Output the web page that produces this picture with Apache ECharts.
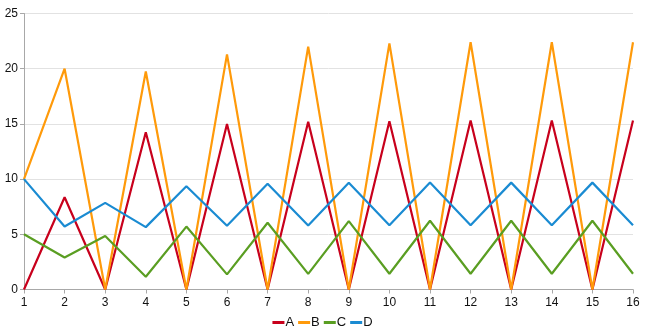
<!DOCTYPE html>
<html>
<head>
<meta charset="utf-8">
<script src="https://cdn.jsdelivr.net/npm/echarts@6/dist/echarts.min.js"></script>
<style>
  html, body { margin: 0; padding: 0; background: #fff; }
  #chart { width: 645px; height: 331px; }
</style>
</head>
<body>
<div id="chart"></div>
<script>
// Categories along the x axis
const categories = ['1','2','3','4','5','6','7','8','9','10','11','12','13','14','15','16'];

// Series values
const seriesA = [0, 8.35, 0, 14.25, 0, 15.0, 0, 15.2, 0, 15.25, 0, 15.3, 0, 15.3, 0, 15.3];
const seriesB = [10, 20.0, 0, 19.75, 0, 21.3, 0, 22.0, 0, 22.3, 0, 22.4, 0, 22.4, 0, 22.4];
const seriesC = [5.0, 2.9, 4.85, 1.15, 5.7, 1.37, 6.05, 1.42, 6.2, 1.43, 6.23, 1.43, 6.23, 1.43, 6.23, 1.43];
const seriesD = [10, 5.7, 7.85, 5.65, 9.35, 5.78, 9.58, 5.8, 9.67, 5.83, 9.7, 5.83, 9.68, 5.83, 9.68, 5.83];

const seriesNames = ['A', 'B', 'C', 'D'];
const seriesColors = ['#c8001c', '#ff9a0a', '#5a9e22', '#1a8bd2'];
const seriesData = [seriesA, seriesB, seriesC, seriesD];

const chart = echarts.init(document.getElementById('chart'), null, { renderer: 'canvas' });

const axisFont = { fontFamily: 'Liberation Sans, Arial, sans-serif', fontSize: 12, color: '#111' };

chart.setOption({
  animation: false,
  backgroundColor: '#fff',
  grid: { left: 24, right: 12, top: 13.5, bottom: 41.5, containLabel: false },
  legend: {
    top: 311,
    left: 'center',
    icon: 'rect',
    itemWidth: 12,
    itemHeight: 3,
    itemGap: 4,
    data: seriesNames,
    textStyle: { fontFamily: 'Liberation Sans, Arial, sans-serif', fontSize: 13, color: '#111', padding: [0, 0, 0, -4] }
  },
  xAxis: {
    type: 'category',
    data: categories,
    boundaryGap: false,
    axisLine: { lineStyle: { color: '#a8a8a8', width: 1 } },
    axisTick: { show: true, length: 4, alignWithLabel: true, lineStyle: { color: '#a8a8a8' } },
    axisLabel: Object.assign({ margin: 7 }, axisFont),
    splitLine: { show: false }
  },
  yAxis: {
    type: 'value',
    min: 0,
    max: 25,
    interval: 5,
    axisLine: { show: true, lineStyle: { color: '#a8a8a8', width: 1 } },
    axisTick: { show: true, length: 4, lineStyle: { color: '#a8a8a8' } },
    axisLabel: Object.assign({ margin: 6 }, axisFont),
    splitLine: { show: true, lineStyle: { color: '#e2e2e2', width: 1 } }
  },
  series: seriesNames.map((name, i) => ({
    name: name,
    type: 'line',
    data: seriesData[i],
    color: seriesColors[i],
    showSymbol: false,
    symbol: 'none',
    lineStyle: { width: 2.2, color: seriesColors[i] }
  }))
});
</script>
</body>
</html>
